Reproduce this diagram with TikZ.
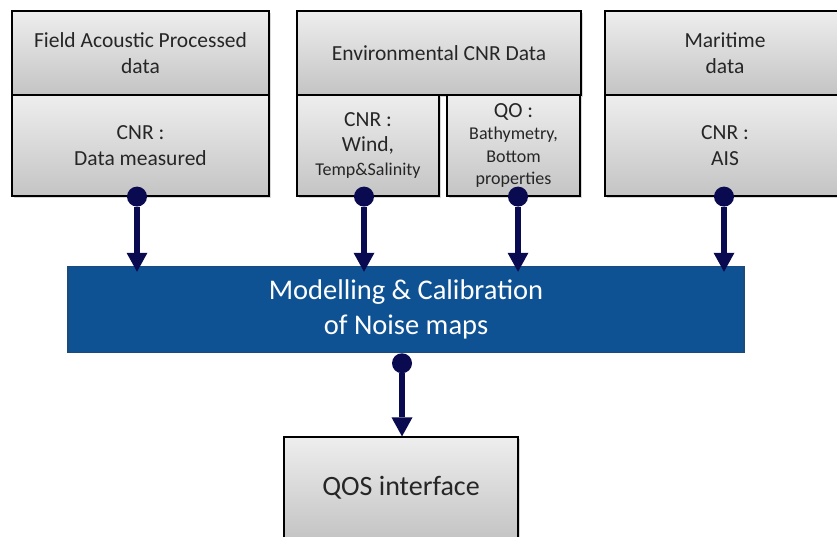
\documentclass[tikz,border=0pt]{standalone}
\usepackage{fontspec}
\setmainfont{Carlito}
\usetikzlibrary{arrows.meta,shadows}
\definecolor{boxtop}{HTML}{EEEEEE}
\definecolor{boxbot}{HTML}{C4C4C4}
\definecolor{modelblue}{HTML}{0F5294}
\definecolor{modeledge}{HTML}{1D4A7C}
\definecolor{linknavy}{HTML}{0A0A50}
\tikzset{
  graybox/.style={draw=black, line width=1.2pt, top color=boxtop, bottom color=boxbot,
    align=center, text=black!85, inner sep=0pt, font=\fontsize{21.5}{26}\selectfont,
    drop shadow={shadow xshift=2pt, shadow yshift=-2pt, opacity=0.3}},
  modelbox/.style={draw=modeledge, line width=1.5pt, fill=modelblue, text=white,
    align=center, inner sep=0pt, font=\fontsize{28.5}{34.5}\selectfont,
    minimum width=676, minimum height=86},
  link/.style={draw=linknavy, line width=5.5pt,
    {Circle[length=20pt,line width=0pt]}-{Triangle[width=21pt,length=19pt,line width=0pt]}},
}
\begin{document}
\begin{tikzpicture}[x=1pt,y=-1pt]
  \useasboundingbox (0,0) rectangle (837,537);
  % sources
  \node[graybox, minimum width=257, minimum height=84] (fieldhdr) at (140.5,53) {Field Acoustic Processed\\data};
  \node[graybox, minimum width=257, minimum height=101] (fieldcnr) at (140.5,145.5) {CNR :\\Data measured};
  \node[graybox, minimum width=284, minimum height=84] (envhdr) at (439,53) {Environmental CNR Data};
  \node[graybox, minimum width=142, minimum height=101, font=\fontsize{21.5}{24.5}\selectfont] (envcnr) at (368,145.5)
    {CNR :\\Wind,\\{\fontsize{18}{21}\selectfont Temp\&Salinity}};
  \node[graybox, minimum width=133, minimum height=101, font=\fontsize{18}{22.5}\selectfont] (envqo) at (513.5,145.5)
    {{\fontsize{21.5}{24}\selectfont QO :}\\Bathymetry,\\Bottom\\properties};
  \node[graybox, minimum width=240, minimum height=84] (marhdr) at (725,53) {Maritime\\data};
  \node[graybox, minimum width=240, minimum height=101] (marcnr) at (725,145.5) {CNR :\\AIS};
  % model and output
  \node[modelbox] (model) at (406,309.5) {Modelling \& Calibration\\of Noise maps};
  \node[graybox, minimum width=234, minimum height=102, font=\fontsize{28}{34}\selectfont] (qos) at (401,488) {QOS interface};
  % links
  \draw[link] ([xshift=-3.5pt,yshift=10pt]fieldcnr.south) -- ([xshift=-3.5pt,yshift=-6pt]fieldcnr.south |- model.north);
  \draw[link] ([xshift=-4pt,yshift=10pt]envcnr.south) -- ([xshift=-4pt,yshift=-6pt]envcnr.south |- model.north);
  \draw[link] ([xshift=4.5pt,yshift=10pt]envqo.south) -- ([xshift=4.5pt,yshift=-6pt]envqo.south |- model.north);
  \draw[link] ([xshift=-1pt,yshift=10pt]marcnr.south) -- ([xshift=-1pt,yshift=-6pt]marcnr.south |- model.north);
  \draw[link] ([xshift=1pt]qos.north |- model.south) -- ([xshift=1pt]qos.north);
\end{tikzpicture}
\end{document}
